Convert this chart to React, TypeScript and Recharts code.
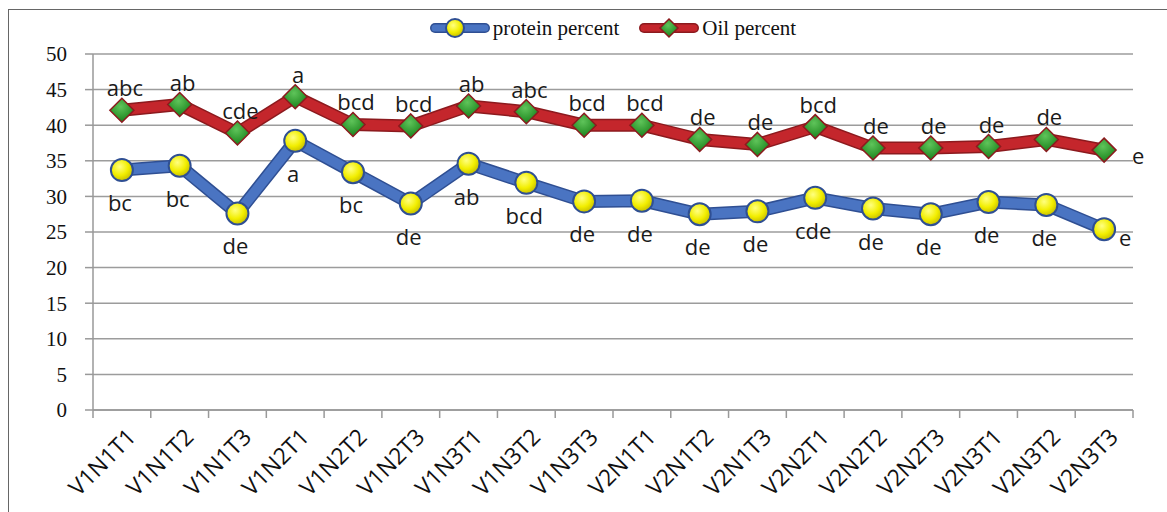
import React from 'react';
import { ComposedChart, Line, XAxis, YAxis, CartesianGrid, LabelList } from 'recharts';

const categories = ['V1N1T1', 'V1N1T2', 'V1N1T3', 'V1N2T1', 'V1N2T2', 'V1N2T3', 'V1N3T1', 'V1N3T2', 'V1N3T3', 'V2N1T1', 'V2N1T2', 'V2N1T3', 'V2N2T1', 'V2N2T2', 'V2N2T3', 'V2N3T1', 'V2N3T2', 'V2N3T3'];
const proteinPercent = [33.7, 34.3, 27.6, 37.8, 33.4, 29.0, 34.6, 31.9, 29.3, 29.4, 27.5, 27.9, 29.8, 28.3, 27.5, 29.2, 28.8, 25.4];
const oilPercent = [42.1, 42.9, 38.9, 44.0, 40.1, 39.9, 42.7, 41.9, 40.0, 40.0, 38.0, 37.3, 39.8, 36.8, 36.8, 37.0, 38.0, 36.5];
const proteinLetters = ['bc', 'bc', 'de', 'a', 'bc', 'de', 'ab', 'bcd', 'de', 'de', 'de', 'de', 'cde', 'de', 'de', 'de', 'de', 'e'];
const oilLetters = ['abc', 'ab', 'cde', 'a', 'bcd', 'bcd', 'ab', 'abc', 'bcd', 'bcd', 'de', 'de', 'bcd', 'de', 'de', 'de', 'de', 'e'];
const yTicks = [0, 5, 10, 15, 20, 25, 30, 35, 40, 45, 50];

const data = categories.map((c, i) => ({
  name: c,
  protein: proteinPercent[i],
  oil: oilPercent[i],
  proteinL: proteinLetters[i],
  oilL: oilLetters[i],
}));

const BLUE = '#4a74c2';
const BLUE_DARK = '#2f4f93';
const RED = '#c4262c';
const RED_DARK = '#8c1a1e';
const LABEL_FONT = '"Open Sans", "Noto Sans", sans-serif';
const SERIF = '"Liberation Serif", "DejaVu Serif", serif';
const N = categories.length;

const CircleDot = (props: any) => {
  const { cx, cy } = props;
  if (cx == null || cy == null) return null;
  return <circle cx={cx} cy={cy} r={11} fill="url(#yellowGrad)" stroke={BLUE_DARK} strokeWidth={2} />;
};

const DiamondDot = (props: any) => {
  const { cx, cy } = props;
  if (cx == null || cy == null) return null;
  const s = 12;
  return (
    <path
      d={`M${cx},${cy - s} L${cx + s},${cy} L${cx},${cy + s} L${cx - s},${cy} Z`}
      fill="url(#greenGrad)"
      stroke={RED_DARK}
      strokeWidth={1.5}
    />
  );
};

const oilLabel = (p: any) => {
  const { x, y, value, index } = p;
  const last = index === N - 1;
  return (
    <text
      x={last ? x + 34 : x + 3}
      y={last ? y + 5 : y - 23}
      textAnchor="middle"
      dominantBaseline="central"
      fontFamily={LABEL_FONT}
      fontSize={22}
      fill="#1a1a1a"
    >
      {value}
    </text>
  );
};

const proteinLabel = (p: any) => {
  const { x, y, value, index } = p;
  const last = index === N - 1;
  return (
    <text
      x={last ? x + 21 : x - 2}
      y={last ? y + 8 : y + 32}
      textAnchor="middle"
      dominantBaseline="central"
      fontFamily={LABEL_FONT}
      fontSize={22}
      fill="#1a1a1a"
    >
      {value}
    </text>
  );
};

const XTick = (props: any) => {
  const { x, y, payload, index } = props;
  const half = payload && payload.offset ? payload.offset : 1040 / N / 2;
  const tx = x + 9;
  const ty = y + 22;
  return (
    <g>
      <line x1={x - half} y1={y} x2={x - half} y2={y + 8} stroke="#999" strokeWidth={1.5} />
      {index === N - 1 && <line x1={x + half} y1={y} x2={x + half} y2={y + 8} stroke="#999" strokeWidth={1.5} />}
      <text
        x={tx}
        y={ty}
        textAnchor="end"
        transform={`rotate(-45, ${tx}, ${ty})`}
        fontFamily={LABEL_FONT}
        fontSize={23}
        fill="#111"
        dominantBaseline="central"
      >
        {payload.value}
      </text>
    </g>
  );
};

const LegendItem = ({ kind, label, gap }: { kind: 'circle' | 'diamond'; label: string; gap: number }) => (
  <div style={{ display: 'flex', alignItems: 'center', marginRight: gap }}>
    <svg width={60} height={26} style={{ marginRight: 3 }}>
      <line x1={5} y1={13} x2={55} y2={13} stroke={kind === 'circle' ? BLUE_DARK : RED_DARK} strokeWidth={10} strokeLinecap="round" />
      <line x1={5} y1={13} x2={55} y2={13} stroke={kind === 'circle' ? BLUE : RED} strokeWidth={7} strokeLinecap="round" />
      {kind === 'circle' ? (
        <circle cx={25} cy={13} r={9} fill="url(#yellowGrad)" stroke={BLUE_DARK} strokeWidth={2} />
      ) : (
        <path d="M30,4 L39,13 L30,22 L21,13 Z" fill="url(#greenGrad)" stroke={RED_DARK} strokeWidth={1.5} />
      )}
    </svg>
    <span style={{ fontFamily: SERIF, fontSize: 21, color: '#111', lineHeight: '26px' }}>{label}</span>
  </div>
);

export default function App() {
  return (
    <div style={{ position: 'absolute', left: 0, top: 0, width: 1167, height: 512, overflow: 'hidden', background: '#fff' }}>
      <svg width={0} height={0} style={{ position: 'absolute' }}>
        <defs>
          <radialGradient id="yellowGrad" cx="40%" cy="35%" r="65%">
            <stop offset="0%" stopColor="#ffff80" />
            <stop offset="60%" stopColor="#f2ee00" />
            <stop offset="100%" stopColor="#c8c000" />
          </radialGradient>
          <radialGradient id="greenGrad" cx="45%" cy="35%" r="65%">
            <stop offset="0%" stopColor="#5fc45a" />
            <stop offset="70%" stopColor="#2e962e" />
            <stop offset="100%" stopColor="#1f7a22" />
          </radialGradient>
        </defs>
      </svg>
      <div style={{ position: 'absolute', left: 8, top: 9, width: 1300, height: 600, borderTop: '1.5px solid #666', borderLeft: '1.5px solid #666' }} />
      <div style={{ position: 'absolute', left: 93, width: 1040, top: 15, display: 'flex', justifyContent: 'center' }}>
        <LegendItem kind="circle" label="protein percent" gap={20} />
        <LegendItem kind="diamond" label="Oil percent" gap={0} />
      </div>
      <div style={{ position: 'absolute', left: 0, top: 0 }}>
        <ComposedChart width={1167} height={512} data={data} margin={{ top: 54, right: 34, bottom: 2, left: 33 }}>
          <CartesianGrid vertical={false} stroke="#9c9c9c" strokeWidth={1.5} />
          <XAxis
            dataKey="name"
            scale="band"
            interval={0}
            height={100}
            tickLine={false}
            tickSize={0}
            tickMargin={0}
            axisLine={{ stroke: '#999', strokeWidth: 1.5 }}
            tick={<XTick />}
          />
          <YAxis
            domain={[0, 50]}
            ticks={yTicks}
            width={60}
            tickSize={8}
            tickMargin={18}
            axisLine={{ stroke: '#999', strokeWidth: 1.5 }}
            tickLine={{ stroke: '#999', strokeWidth: 1.5 }}
            tick={{ fontFamily: SERIF, fontSize: 21, fill: '#111' }}
            interval={0}
          />
          <Line dataKey="protein" stroke={BLUE_DARK} strokeWidth={13} dot={false} activeDot={false} isAnimationActive={false} legendType="none" strokeLinejoin="round" />
          <Line dataKey="oil" stroke={RED_DARK} strokeWidth={13} dot={false} activeDot={false} isAnimationActive={false} legendType="none" strokeLinejoin="round" />
          <Line dataKey="protein" stroke={BLUE} strokeWidth={10} dot={<CircleDot />} activeDot={false} isAnimationActive={false} strokeLinejoin="round">
            <LabelList dataKey="proteinL" content={proteinLabel} />
          </Line>
          <Line dataKey="oil" stroke={RED} strokeWidth={10} dot={<DiamondDot />} activeDot={false} isAnimationActive={false} strokeLinejoin="round">
            <LabelList dataKey="oilL" content={oilLabel} />
          </Line>
        </ComposedChart>
      </div>
    </div>
  );
}
